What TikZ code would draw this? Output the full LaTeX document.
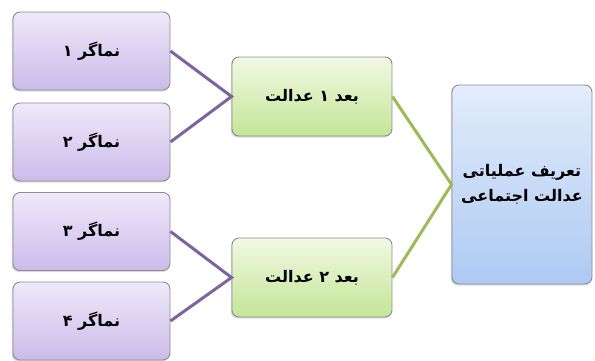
\documentclass[tikz,border=0pt]{standalone}
\usepackage{fontspec}
\newfontfamily\arabicfont[Script=Arabic]{DejaVu Sans}
\TeXXeTstate=1
\usetikzlibrary{shadows}
\definecolor{purpline}{HTML}{7F63A1}
\definecolor{greenline}{HTML}{9BBB59}
\definecolor{purptop}{HTML}{EFE9F9}
\definecolor{purpbot}{HTML}{CBBBEA}
\definecolor{grntop}{HTML}{F1F9E2}
\definecolor{grnbot}{HTML}{C4E598}
\definecolor{bluetop}{HTML}{E3EDFB}
\definecolor{bluebot}{HTML}{ADC9F3}
\definecolor{boxedge}{HTML}{8C8C94}
\tikzset{
  basebox/.style={rounded corners=7pt, line width=0.9pt, inner sep=2pt, draw=boxedge,
    font=\arabicfont\bfseries\fontsize{16}{25}\selectfont, text=black,
    drop shadow={shadow xshift=-1.2pt, shadow yshift=-1.6pt, opacity=0.3}},
  purpbox/.style={basebox, top color=purptop, bottom color=purpbot,
    minimum width=157pt, minimum height=78pt},
  grnbox/.style={basebox, top color=grntop, bottom color=grnbot,
    minimum width=160pt, minimum height=79pt},
  bluebox/.style={basebox, top color=bluetop, bottom color=bluebot,
    minimum width=140pt, minimum height=199pt, align=center},
  purpconn/.style={draw=purpline, line width=3pt},
  grnconn/.style={draw=greenline, line width=3pt}
}
\begin{document}
\begin{tikzpicture}[x=1pt,y=-1pt]
\useasboundingbox (0,0) rectangle (595,360);
\node[purpbox] (n1) at (91.5,51) {\beginR نماگر ۱\endR};
\node[purpbox] (n2) at (91.5,142) {\beginR نماگر ۲\endR};
\node[purpbox] (n3) at (91.5,231.5) {\beginR نماگر ۳\endR};
\node[purpbox] (n4) at (91.5,321) {\beginR نماگر ۴\endR};
\node[grnbox] (d1) at (312,96.5) {\beginR بعد ۱ عدالت\endR};
\node[grnbox] (d2) at (312,277.5) {\beginR بعد ۲ عدالت\endR};
\node[bluebox] (t) at (522,184.5) {\beginR تعریف عملیاتی\endR\\\beginR عدالت اجتماعی\endR};
\draw[purpconn] (n1.east) -- (d1.west) -- (n2.east);
\draw[purpconn] (n3.east) -- (d2.west) -- (n4.east);
\draw[grnconn] (d1.east) -- (t.west) -- (d2.east);
\end{tikzpicture}
\end{document}
